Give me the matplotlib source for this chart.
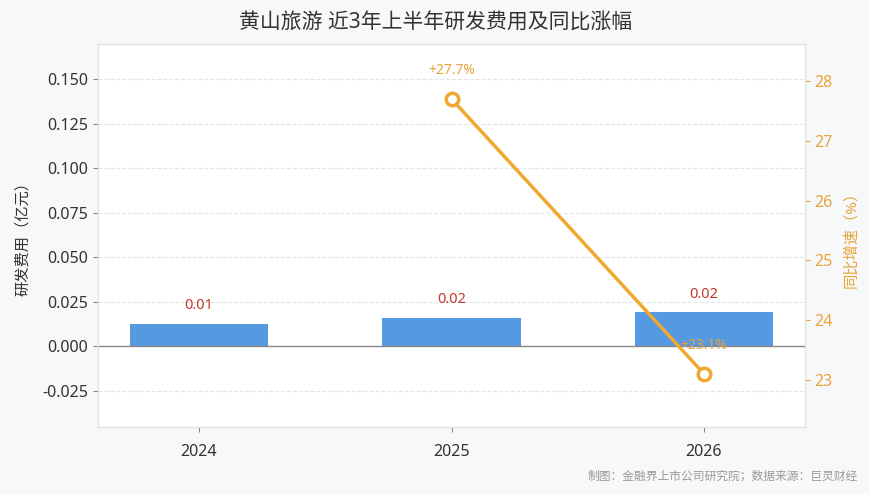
import matplotlib.pyplot as plt

plt.rcParams['font.family'] = ['Noto Sans', 'Noto Sans CJK SC', 'DejaVu Sans']

years = ["2024", "2025", "2026"]
rd_cost = [0.0124, 0.0157, 0.0190]
rd_labels = ["0.01", "0.02", "0.02"]
growth_years = ["2025", "2026"]
growth = [27.7, 23.1]

bar_color = "#5599e0"
line_color = "#f0a830"
text_orange = "#e8a33a"

fig = plt.figure(figsize=(8.7, 4.94), dpi=100)
fig.patch.set_facecolor("#f7f8fa")

ax = fig.add_axes([98 / 870, 1 - 427 / 494, 707 / 870, 383 / 494])
ax.set_facecolor("white")

x = list(range(len(years)))
ax.bar(x, rd_cost, width=0.55, color=bar_color, zorder=2)
for i, (v, lab) in enumerate(zip(rd_cost, rd_labels)):
    ax.text(i, v + 0.006, lab, ha="center", va="bottom",
            color="#c0392b", fontsize=10.5)

ax.set_xlim(-0.4, 2.4)
ax.set_ylim(-0.0455, 0.1697)
ax.set_yticks([-0.025, 0.0, 0.025, 0.05, 0.075, 0.1, 0.125, 0.15])
ax.set_yticklabels([f"{t:.3f}" for t in ax.get_yticks()])
ax.set_xticks(x)
ax.set_xticklabels(years)
ax.grid(axis="y", linestyle="--", color="#e2e4e8", linewidth=0.8, zorder=0)
ax.axhline(0, color="#888888", linewidth=1, zorder=3)
ax.tick_params(axis="both", colors="#888888", labelcolor="#333333",
               labelsize=11.5)
ax.tick_params(axis="x", pad=9)
ax.set_ylabel("研发费用（亿元）", fontsize=11, color="#333333", labelpad=8)
for s in ax.spines.values():
    s.set_color("#e0e2e6")

ax2 = ax.twinx()
gx = [years.index(y) for y in growth_years]
ax2.plot(gx, growth, color=line_color, linewidth=2.5, marker="o",
         markersize=9, markerfacecolor="white", markeredgecolor=line_color,
         markeredgewidth=2.5, zorder=4)
for xi, g in zip(gx, growth):
    ax2.text(xi, g + 0.35, f"+{g}%", ha="center", va="bottom",
             color=text_orange, fontsize=10)
ax2.set_ylim(22.21, 28.62)
ax2.set_yticks([23, 24, 25, 26, 27, 28])
ax2.tick_params(axis="y", colors=text_orange, labelcolor=text_orange,
                labelsize=11.5)
ax2.set_ylabel("同比增速（%）", fontsize=11, color=text_orange, labelpad=8)
for s in ax2.spines.values():
    s.set_color("#e0e2e6")

fig.text(436 / 870, 1 - 22 / 494, "黄山旅游 近3年上半年研发费用及同比涨幅",
         ha="center", va="center", fontsize=15, color="#333333")
fig.text(858 / 870, 1 - 476 / 494, "制图：金融界上市公司研究院；数据来源：巨灵财经",
         ha="right", va="center", fontsize=8.5, color="#999999")

fig.savefig("out.png", dpi=100, facecolor=fig.get_facecolor())
